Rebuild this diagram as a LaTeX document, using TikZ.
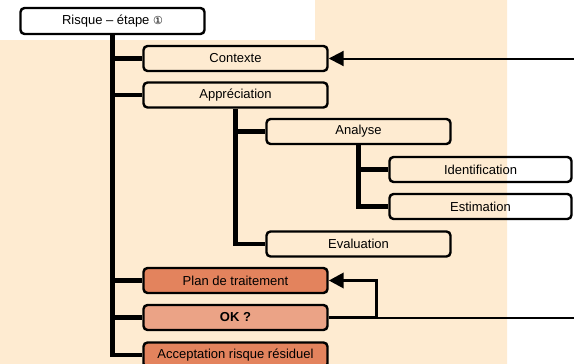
\documentclass[tikz,border=0pt]{standalone}
\usepackage{fontspec}
\setmainfont{Liberation Sans}
\newfontfamily\dejavu{DejaVu Sans}
\usetikzlibrary{arrows.meta}
\definecolor{bgbeige}{HTML}{FEEBD1}
\definecolor{planfill}{HTML}{E3835D}
\definecolor{okfill}{HTML}{EBA386}
\tikzset{
  box/.style={draw=black, line width=2.4pt, rounded corners=4pt, minimum width=184pt, minimum height=25pt, inner sep=0pt, font=\fontsize{13}{15}\selectfont},
  treeline/.style={line width=4.2pt},
  thinline/.style={line width=2pt},
  fbline/.style={line width=3.5pt},
  bigtip/.style={-{Triangle[length=15pt,width=15pt]}}
}
\begin{document}
\begin{tikzpicture}[x=1pt,y=-1pt]
\useasboundingbox (0,0) rectangle (574,364);
\clip (0,0) rectangle (574,364);
\fill[bgbeige] (0,40) -- (315,40) -- (315,0) -- (507,0) -- (507,364) -- (0,364) -- cycle;

\node[box, minimum width=184pt, minimum height=26pt] (risk) at (112.5,21) {Risque -- étape {\dejavu\fontsize{11}{13}\selectfont ①}};
\node[box] (ctx) at (235.5,58.5) {Contexte};
\node[box] (app) at (235.5,95) {Appréciation};
\node[box] (ana) at (358.5,131.5) {Analyse};
\node[box, minimum width=182pt] (idf) at (480.5,169.5) {Identification};
\node[box, minimum width=182pt] (est) at (480.5,206.5) {Estimation};
\node[box] (eva) at (358.5,244) {Evaluation};
\node[box, fill=planfill] (plan) at (235.5,280.5) {Plan de traitement};
\node[box, fill=okfill, font=\fontsize{13}{15}\selectfont\bfseries] (ok) at (235.5,317.5) {OK ?};
\node[box, fill=planfill] (acc) at (235.5,355) {Acceptation risque résiduel};

% main trunk
\draw[treeline] (risk.south) |- (acc.west);
\draw[treeline] (risk.south |- ctx.west) -- (ctx.west);
\draw[treeline] (risk.south |- app.west) -- (app.west);
\draw[treeline] (risk.south |- plan.west) -- (plan.west);
\draw[treeline] (risk.south |- ok.west) -- (ok.west);
% appreciation branch
\draw[treeline] (app.south) |- (eva.west);
\draw[treeline] (app.south |- ana.west) -- (ana.west);
% analyse branch
\draw[treeline] (ana.south) |- (est.west);
\draw[treeline] (ana.south |- idf.west) -- (idf.west);

% external arrows
\coordinate (inA) at (574,58.5);
\coordinate (outB) at (574,317.5);
\draw[thinline, bigtip] (inA) -- (ctx.east);
\draw[thinline] (ok.east) -- (outB);
\draw[fbline, bigtip] (ok.east) -- ++(48,0) |- (plan.east);
\end{tikzpicture}
\end{document}
